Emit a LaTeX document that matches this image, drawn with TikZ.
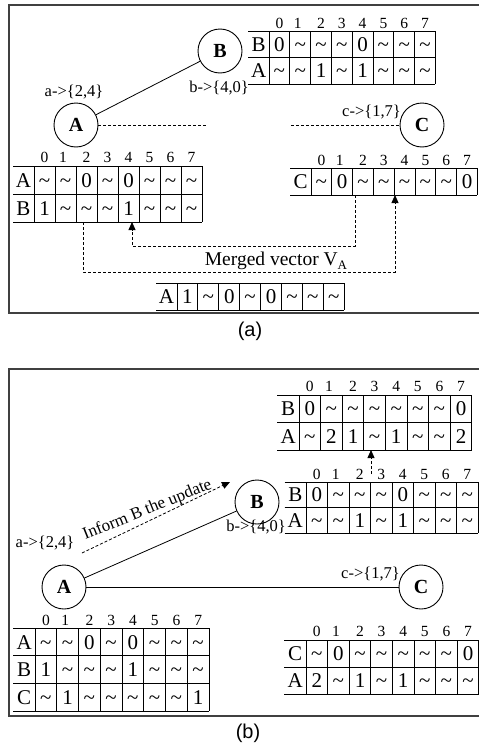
\documentclass[tikz,border=0pt]{standalone}
\usepackage{fontspec}
\setmainfont{Liberation Serif}
\newfontfamily\capfont{Liberation Sans}
\usetikzlibrary{arrows.meta}
\def\T{\textasciitilde}
\tikzset{
 cellt/.style={anchor=base, inner sep=0pt, font=\fontsize{21}{21}\selectfont},
 hdr/.style={anchor=base, inner sep=0pt, font=\fontsize{15.5}{15.5}\selectfont},
 tabline/.style={line width=1pt},
 vnode/.style={circle, draw, line width=0.9pt, minimum size=44pt, inner sep=0pt, font=\fontsize{20}{20}\selectfont\bfseries},
 lbl/.style={inner sep=0pt, font=\fontsize{16.5}{16.5}\selectfont},
 dsh/.style={line width=0.8pt, dash pattern=on 3pt off 2pt},
 arr/.style={-{Triangle[length=8pt,width=7pt]}},
 framel/.style={line width=1.5pt, black!75},
 capt/.style={inner sep=0pt, font=\capfont\fontsize{20}{20}\selectfont},
}
% #1 name, #2 x of first line after label, #3 y top, #4 cell width, #5 row height, #6 label, #7 entries
\newcommand\tabrow[7]{%
  \node[cellt] (#1l) at ({#2-#4/2},{#3+#5/2+7.2}) {#6};
  \foreach \e [count=\i] in {#7} {
    \node[cellt] (#1c\i) at ({#2+(\i-0.5)*#4},{#3+#5/2+7.2}) {\e};
  }
  \draw[tabline] ({#2-#4},#3) -- ({#2+8*#4},#3);
  \draw[tabline] ({#2-#4},{#3+#5}) -- ({#2+8*#4},{#3+#5});
  \foreach \k in {0,...,8} {\draw[tabline] ({#2+\k*#4},#3) -- ({#2+\k*#4},{#3+#5});}
}
% #1 name, #2 x0, #3 y centre, #4 cell width
\newcommand\tabhead[4]{%
  \foreach \k in {0,...,7} {
    \pgfmathsetmacro\hdx{\k==1 ? -2.5 : 0}
    \node[hdr] (#1h\k) at ({#2+(\k+0.5)*#4+\hdx},{#3+5}) {\k};}
}
\begin{document}
\begin{tikzpicture}[x=1pt,y=-1pt]
\useasboundingbox (0,0) rectangle (479,744);
% ---------------- panel (a) ----------------
\draw[framel] (484,5) -- (9,5) -- (9,313) -- (484,313);
\node[capt] (capa) at (250,331) {(a)};
\node[vnode] (A1) at (76,125) {A};
\node[vnode] (B1) at (220,51) {B};
\node[vnode] (C1) at (422,125) {C};
\node[lbl, anchor=base] (la1) at (74,96) {a->\{2,4\}};
\node[lbl, anchor=base east] (lb1) at (249,92) {b->\{4,0\}};
\node[lbl, anchor=base east] (lc1) at (401,116) {c->\{1,7\}};
\draw[line width=0.8pt] (A1) -- (B1);
\coordinate (dA) at (207,125);
\coordinate (dC) at (291,125);
\draw[dsh] (A1) -- (dA);
\draw[dsh] (dC) -- (C1);
% B table
\tabhead{tb}{269}{23}{20.8}
\tabrow{tbB}{269}{31}{20.8}{26.5}{B}{0,\T,\T,\T,0,\T,\T,\T}
\tabrow{tbA}{269}{57.5}{20.8}{26.5}{A}{\T,\T,1,\T,1,\T,\T,\T}
% A table
\tabhead{ta}{34}{157}{21}
\tabrow{taA}{34}{166}{21}{28}{A}{\T,\T,0,\T,0,\T,\T,\T}
\tabrow{taB}{34}{194}{21}{28}{B}{1,\T,\T,\T,1,\T,\T,\T}
% C table
\tabhead{tc}{311}{160}{20.8}
\tabrow{tcC}{311}{168}{20.8}{27}{C}{\T,0,\T,\T,\T,\T,\T,0}
% merged
\tabrow{tm}{177}{283}{20.9}{27}{A}{1,\T,0,\T,0,\T,\T,\T}
\node[inner sep=0pt, anchor=base, font=\fontsize{19.5}{19.5}\selectfont] (mv) at (276,265) {Merged vector V\raisebox{-0.45ex}{\fontsize{13}{13}\selectfont A}};
\coordinate (m1s) at (83,222);
\coordinate (m1e) at (395,195);
\draw[dsh, arr] (m1s) -- ++(0,50) -| (m1e);
\coordinate (m2s) at (355,195);
\coordinate (m2e) at (132,222);
\draw[dsh, arr] (m2s) -- ++(0,51) -| (m2e);
% ---------------- panel (b) ----------------
\draw[framel] (484,369) -- (9,369) -- (9,716) -- (484,716);
\node[capt] (capb) at (248,733) {(b)};
\node[vnode] (A2) at (64,587) {A};
\node[vnode] (B2) at (257,502) {B};
\node[vnode] (C2) at (421,587) {C};
\node[lbl, anchor=base] (la2) at (45,547) {a->\{2,4\}};
\node[lbl, anchor=base east] (lb2) at (286,531) {b->\{4,0\}};
\node[lbl, anchor=base east] (lc2) at (400,578) {c->\{1,7\}};
\draw[line width=0.8pt] (A2) -- (B2);
\draw[line width=0.8pt] (A2) -- (C2);
\coordinate (i1) at (82,553);
\coordinate (i2) at (230,482);
\draw[dsh, arr] (i1) -- (i2);
\node[lbl, anchor=base, rotate=22, font=\fontsize{17}{17}\selectfont] (inf) at (149,514) {Inform B the update};
% updated B table
\tabhead{tu}{299}{386}{21.6}
\tabrow{tuB}{299}{395}{21.6}{27.5}{B}{0,\T,\T,\T,\T,\T,\T,0}
\tabrow{tuA}{299}{422.5}{21.6}{27.5}{A}{\T,2,1,\T,1,\T,\T,2}
% original B table
\tabhead{to}{306}{474}{21.5}
\tabrow{toB}{306}{482}{21.5}{25.5}{B}{0,\T,\T,\T,0,\T,\T,\T}
\tabrow{toA}{306}{507.5}{21.5}{25.5}{A}{\T,\T,1,\T,1,\T,\T,\T}
\coordinate (u1) at (371,474);
\coordinate (u2) at (371,450);
\draw[dsh, arr] (u1) -- (u2);
% A table
\tabhead{tA}{35}{620}{21.75}
\tabrow{tAA}{35}{628}{21.75}{27.7}{A}{\T,\T,0,\T,0,\T,\T,\T}
\tabrow{tAB}{35}{655.7}{21.75}{27.7}{B}{1,\T,\T,\T,1,\T,\T,\T}
\tabrow{tAC}{35}{683.4}{21.75}{27.7}{C}{\T,1,\T,\T,\T,\T,\T,1}
% C table
\tabhead{tC}{306}{631}{21.6}
\tabrow{tCC}{306}{640}{21.6}{27}{C}{\T,0,\T,\T,\T,\T,\T,0}
\tabrow{tCA}{306}{667}{21.6}{27}{A}{2,\T,1,\T,1,\T,\T,\T}
\end{tikzpicture}
\end{document}
